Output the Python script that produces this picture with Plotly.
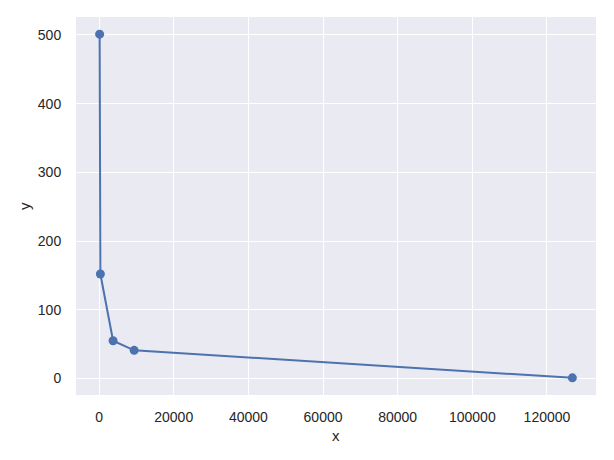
import plotly.graph_objects as go

x_values = [150, 350, 3750, 9400, 126800]
y_values = [501, 152, 55, 41, 1]
x_ticks = [0, 20000, 40000, 60000, 80000, 100000, 120000]
y_ticks = [0, 100, 200, 300, 400, 500]
x_label = "x"
y_label = "y"

fig = go.Figure()
fig.add_trace(go.Scatter(
    x=x_values, y=y_values, mode="lines+markers",
    line=dict(color="#4C72B0", width=2),
    marker=dict(color="#4C72B0", size=9),
    showlegend=False,
))

font = dict(family="Liberation Sans, Arial, sans-serif", size=14, color="#262626")
fig.update_layout(
    width=614, height=460,
    margin=dict(l=76, r=18, t=17, b=65),
    paper_bgcolor="white", plot_bgcolor="#EAEAF2",
    font=font,
    xaxis=dict(
        range=[-6182, 133132], tickvals=x_ticks, ticktext=[str(v) for v in x_ticks],
        showgrid=True, gridcolor="white", gridwidth=1.3, zeroline=False,
        ticks="outside", ticklen=9, tickcolor="rgba(0,0,0,0)",
        tickfont=dict(size=14), showline=False, automargin=False,
    ),
    yaxis=dict(
        range=[-24, 526], tickvals=y_ticks, ticktext=[str(v) for v in y_ticks],
        showgrid=True, gridcolor="white", gridwidth=1.3, zeroline=False,
        ticks="outside", ticklen=11, tickcolor="rgba(0,0,0,0)",
        tickfont=dict(size=14), showline=False, automargin=False,
    ),
    annotations=[
        dict(text=x_label, xref="paper", yref="paper", x=0.5, y=0,
             xanchor="center", yanchor="middle", yshift=-40, showarrow=False,
             font=dict(size=15)),
        dict(text=y_label, xref="paper", yref="paper", x=0, y=0.5,
             xanchor="center", yanchor="middle", xshift=-52, textangle=-90,
             showarrow=False, font=dict(size=15)),
    ],
)
fig.write_html("out.html", config={"displayModeBar": False},
               post_script="document.body.style.margin='0';")
